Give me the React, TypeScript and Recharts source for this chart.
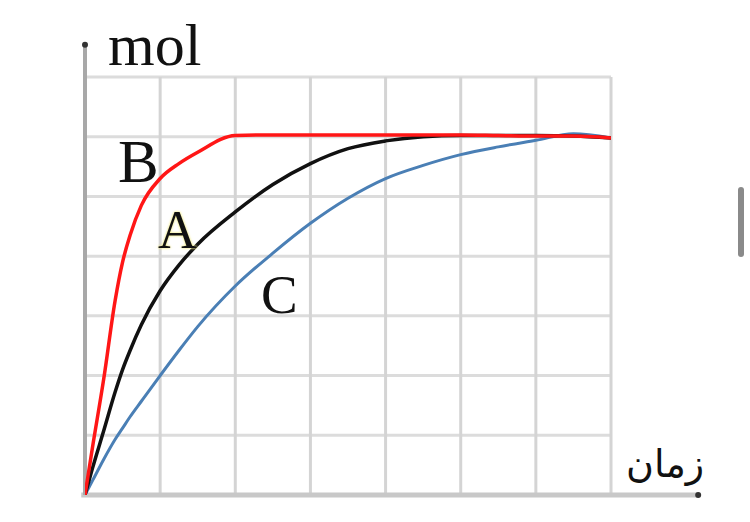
import React from 'react';
import { LineChart, Line, XAxis, YAxis, ReferenceLine, ReferenceDot } from 'recharts';

// time and mol, both in grid units
const time = [0, 0.1, 0.25, 0.4, 0.5, 0.6, 0.75, 1, 1.25, 1.5, 2, 2.5, 3, 3.5, 4, 4.5, 5, 5.5, 6, 6.5, 7];
const seriesB = [0, 0.8, 1.95, 3.25, 3.9, 4.35, 4.85, 5.3, 5.55, 5.74, 6.02, 6.03, 6.03, 6.03, 6.03, 6.03, 6.03, 6.02, 6.01, 6.01, 5.98];
const seriesA = [0, 0.45, 1.08, 1.72, 2.1, 2.42, 2.85, 3.42, 3.85, 4.2, 4.74, 5.2, 5.55, 5.8, 5.93, 6.0, 6.02, 6.02, 6.02, 6.01, 5.98];
const seriesC = [0, 0.24, 0.6, 0.93, 1.12, 1.31, 1.57, 2.0, 2.42, 2.82, 3.5, 4.05, 4.55, 4.97, 5.3, 5.52, 5.7, 5.83, 5.94, 6.05, 5.98];
const gridTicks = [0, 1, 2, 3, 4, 5, 6, 7];

const data = time.map((t, i) => ({ t, A: seriesA[i], B: seriesB[i], C: seriesC[i] }));

const serif = '"Liberation Serif", "Times New Roman", serif';

export default function App() {
  return (
    <div style={{ position: 'absolute', left: 0, top: 0, width: 750, height: 522, background: '#fff' }}>
      <LineChart width={750} height={522} data={data} margin={{ top: 77, right: 139, bottom: 27, left: 85 }}>
        <XAxis dataKey="t" type="number" domain={[0, 7]} hide allowDataOverflow />
        <YAxis type="number" domain={[0, 7]} hide allowDataOverflow />
        {gridTicks.slice(1).map((g) => (
          <ReferenceLine key={'h' + g} y={g} stroke="#dcdcdc" strokeWidth={3} />
        ))}
        {gridTicks.slice(1).map((g) => (
          <ReferenceLine key={'v' + g} x={g} stroke="#d4d4d4" strokeWidth={3} />
        ))}
        <ReferenceLine segment={[{ x: -0.05, y: 0 }, { x: 8.16, y: 0 }]} stroke="#c8c8c8" strokeWidth={5} ifOverflow="visible" />
        <ReferenceLine segment={[{ x: 0, y: 0 }, { x: 0, y: 7.54 }]} stroke="#a8a8a8" strokeWidth={4} ifOverflow="visible" />
        <ReferenceDot x={0} y={7.54} r={3} fill="#333" stroke="none" ifOverflow="visible" />
        <ReferenceDot x={8.16} y={0} r={3} fill="#333" stroke="none" ifOverflow="visible" />
        <Line type="monotone" dataKey="C" stroke="#4a7fb5" strokeWidth={3} dot={false} isAnimationActive={false} />
        <Line type="monotone" dataKey="A" stroke="#111111" strokeWidth={3.5} dot={false} isAnimationActive={false} />
        <Line type="monotone" dataKey="B" stroke="#ff1616" strokeWidth={3.5} dot={false} isAnimationActive={false} />
      </LineChart>
      <div style={{ position: 'absolute', left: 108, top: 12, fontFamily: serif, fontSize: 60, lineHeight: '66px', color: '#111' }}>mol</div>
      <div style={{ position: 'absolute', left: 118, top: 129, fontFamily: serif, fontSize: 61, lineHeight: '66px', color: '#111' }}>B</div>
      <div style={{ position: 'absolute', left: 158, top: 200, fontFamily: serif, fontSize: 54, lineHeight: '60px', color: '#111', textShadow: '0 0 3px #f2ec90, 0 0 2px #f2ec90' }}>A</div>
      <div style={{ position: 'absolute', left: 261, top: 265, fontFamily: serif, fontSize: 55, lineHeight: '60px', color: '#111' }}>C</div>
      <div style={{ position: 'absolute', left: 626, top: 437, fontFamily: '"DejaVu Sans", sans-serif', fontSize: 38, lineHeight: '54px', color: '#111', direction: 'rtl' }}>زمان</div>
      <div style={{ position: 'absolute', left: 738, top: 187, width: 6, height: 70, borderRadius: 3, background: '#8a8a8a' }} />
    </div>
  );
}
